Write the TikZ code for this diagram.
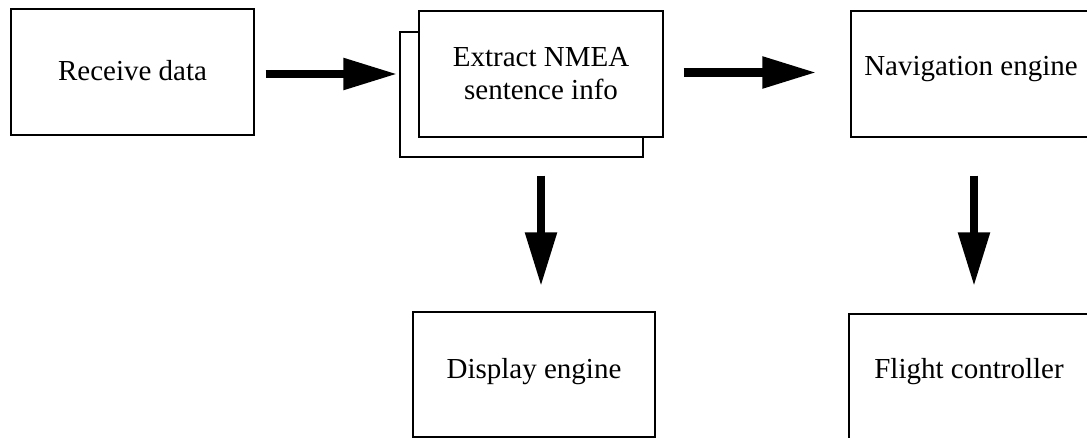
\documentclass[tikz,border=0pt]{standalone}
\usepackage{fontspec}
\setmainfont{Liberation Serif}
\usetikzlibrary{arrows.meta}
\begin{document}
\begin{tikzpicture}[x=1pt,y=-1pt,
  box/.style={draw, line width=1.3pt, rectangle, inner sep=0pt, fill=white,
    font=\fontsize{29}{33}\selectfont},
  bigarrow/.style={line width=8.5pt, -{Triangle[length=54pt,width=30pt]}}]
\useasboundingbox (0,0) rectangle (1087,438);
\node[box, minimum width=243pt, minimum height=126pt, text height=24pt, text depth=6pt] (recv) at (132.5,72) {Receive data};
\node[box, minimum width=243pt, minimum height=125pt] (back) at (521.5,94.5) {};
\node[box, minimum width=244pt, minimum height=126pt, align=center] (front) at (541,74) {Extract NMEA\\sentence info};
\node[box, minimum width=240pt, minimum height=126pt, text height=14pt, text depth=10pt] (nav) at (971,74) {Navigation engine};
\node[box, minimum width=242pt, minimum height=125pt, text height=17pt, text depth=10pt] (disp) at (534,374.5) {Display engine};
\node[box, minimum width=240pt, minimum height=130pt, text height=9pt, text depth=11pt] (flight) at (969,379) {Flight controller};
\coordinate (a1) at ([xshift=11pt,yshift=-2pt]recv.east);
\draw[bigarrow, shorten >=2pt] (a1) -- (back.west |- a1);
\coordinate (a2) at ([yshift=1.5pt]front.east);
\draw[bigarrow, shorten <=20pt, shorten >=34pt] (a2) -- (nav.west |- a2);
\coordinate (v1) at (front.south |- back.south);
\draw[bigarrow, shorten <=18pt, shorten >=25pt] (v1) -- (v1 |- disp.north);
\coordinate (v2) at ([xshift=3pt]nav.south);
\draw[bigarrow, shorten <=38pt, shorten >=27pt] (v2) -- (v2 |- flight.north);
\end{tikzpicture}
\end{document}
